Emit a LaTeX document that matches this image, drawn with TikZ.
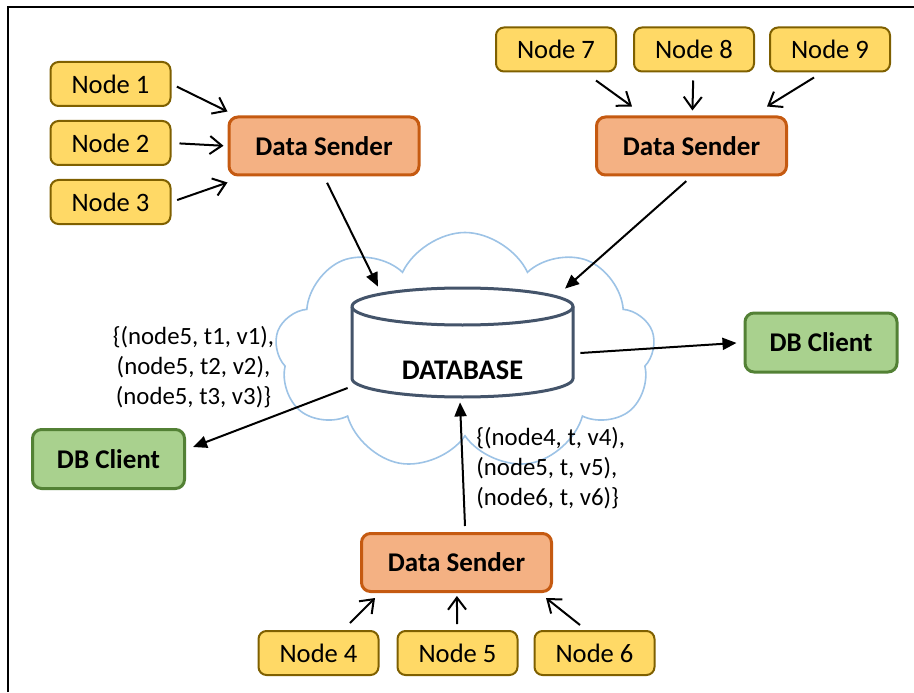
\documentclass[tikz,border=0pt]{standalone}
\usepackage{fontspec}
\setmainfont{Carlito}
\usetikzlibrary{positioning,shapes.symbols,arrows.meta}

\definecolor{srcfill}{HTML}{FFD966}
\definecolor{srcline}{HTML}{7F6000}
\definecolor{sendfill}{HTML}{F4B183}
\definecolor{sendline}{HTML}{C55A11}
\definecolor{clifill}{HTML}{A9D18E}
\definecolor{cliline}{HTML}{538135}
\definecolor{dbline}{HTML}{44546A}
\definecolor{cloudline}{HTML}{9DC3E6}

\tikzset{
  src/.style={draw=srcline, fill=srcfill, line width=1pt, rounded corners=4pt,
    minimum width=60pt, minimum height=22pt, font=\fontsize{13.3}{16}\selectfont},
  sender/.style={draw=sendline, fill=sendfill, line width=1.5pt, rounded corners=4.5pt,
    minimum width=95pt, minimum height=29pt, font=\fontsize{13.5}{16}\selectfont\bfseries},
  client/.style={draw=cliline, fill=clifill, line width=1.5pt, rounded corners=4.5pt,
    minimum width=76pt, minimum height=29.5pt, font=\fontsize{13.5}{16}\selectfont\bfseries},
  store/.style={inner sep=0pt, minimum width=110.5pt, minimum height=54.5pt},
  can/.style={draw=dbline, line width=1.5pt},
  cloudy/.style={cloud, cloud puffs=9, cloud puff arc=130, aspect=1.55, draw=cloudline,
    fill=white, line width=0.8pt, minimum width=190pt, minimum height=119pt},
  tuples/.style={font=\fontsize{12.4}{15}\selectfont, inner sep=0pt},
  flow/.style={-{Straight Barb[length=6pt,width=9pt]}, line width=1pt},
  query/.style={-{Triangle[length=7pt,width=6pt]}, line width=1pt}
}

\begin{document}
\begin{tikzpicture}[x=0.5pt,y=0.5pt]
  \useasboundingbox (0,0) rectangle (914,692);
  \draw[line width=1pt] (8,0) -- (8,685) -- (914,685);

  % cloud and database
  \node[cloudy] (cl) at (465,340.5) {};
  \draw[can, fill=white] (352,385.5) -- (352,313.5)
    arc[start angle=180, end angle=360, x radius=110.5, y radius=18.5]
    -- (573,385.5) arc[start angle=0, end angle=180, x radius=110.5, y radius=18.5] -- cycle;
  \draw[can] (352,385.5) arc[start angle=180, end angle=360, x radius=110.5, y radius=18.5];
  \node[store, label={[yshift=-13.75pt, font=\fontsize{14.2}{16}\selectfont\bfseries]center:DATABASE}] (db) at (462.5,349.5) {};

  % senders
  \node[sender] (s1) at (324,546) {Data Sender};
  \node[sender] (s2) at (691.5,546) {Data Sender};
  \node[sender] (s3) at (456.5,129.5) {Data Sender};

  \node[src, left=28pt of s1, yshift=1.5pt] (n2) {Node 2};
  \node[src, above=6.5pt of n2] (n1) {Node 1};
  \node[src, below=6.5pt of n2] (n3) {Node 3};

  \node[src, above=21.5pt of s2, xshift=1.25pt] (n8) {Node 8};
  \node[src, left=8pt of n8] (n7) {Node 7};
  \node[src, right=7pt of n8] (n9) {Node 9};

  \node[src, below=18.5pt of s3, xshift=0.5pt] (n5) {Node 5};
  \node[src, left=8.5pt of n5] (n4) {Node 4};
  \node[src, right=7.5pt of n5] (n6) {Node 6};

  % clients
  \node[client] (c1) at (108.5,233) {DB Client};
  \node[client] (c2) at (821,349.5) {DB Client};

  % tuples
  \node[tuples, align=center] (q1) at (193.5,325) {\{(node5, t1, v1),\\(node5, t2, v2),\\(node5, t3, v3)\}};
  \node[tuples, align=left, anchor=west] (q2) at (476,224) {\{(node4, t, v4),\\(node5, t, v5),\\(node6, t, v6)\}};

  % node -> sender
  \draw[flow, shorten <=3pt] (n1.east) -- ([yshift=2pt]s1.north west);
  \draw[flow, shorten <=4pt, shorten >=2pt] (n2.east) -- (s1.west);
  \draw[flow, shorten <=3pt] (n3.east) -- ([yshift=-3pt]s1.south west);

  \draw[flow] ([xshift=20pt,yshift=-4pt]n7.south) -- ([xshift=-29.75pt,yshift=4.5pt]s2.north);
  \draw[flow, shorten <=4pt, shorten >=2.5pt] (n8) -- (s2);
  \draw[flow] ([xshift=-8pt,yshift=-2.5pt]n9.south) -- ([xshift=-10.5pt,yshift=4.5pt]s2.north east);

  \draw[flow] ([xshift=15.75pt,yshift=3.5pt]n4.north) -- ([xshift=7.5pt,yshift=-2.5pt]s3.south west);
  \draw[flow, shorten <=3pt, shorten >=1.5pt] (n5) -- (s3);
  \draw[flow] ([xshift=-7.25pt,yshift=2.5pt]n6.north) -- ([xshift=-3.5pt,yshift=-2.5pt]s3.south east);

  % sender -> database -> client
  \draw[query, shorten <=3.5pt] (s1.south) -- ([xshift=-42.25pt,yshift=0.5pt]db.north);
  \draw[query, shorten <=3.5pt] (s2.south) -- ([xshift=51.25pt,yshift=-0.5pt]db.north);
  \draw[query] ([xshift=4.25pt,yshift=3pt]s3.north) -- ([xshift=-1.25pt,yshift=-2.5pt]db.south);
  \draw[query, shorten >=3.5pt] ([xshift=3.5pt,yshift=-5.25pt]db.east) -- (c2.west);
  \draw[query] ([xshift=-2pt,yshift=-22.75pt]db.west) -- ([xshift=3.5pt,yshift=6pt]c1.east);
\end{tikzpicture}
\end{document}
